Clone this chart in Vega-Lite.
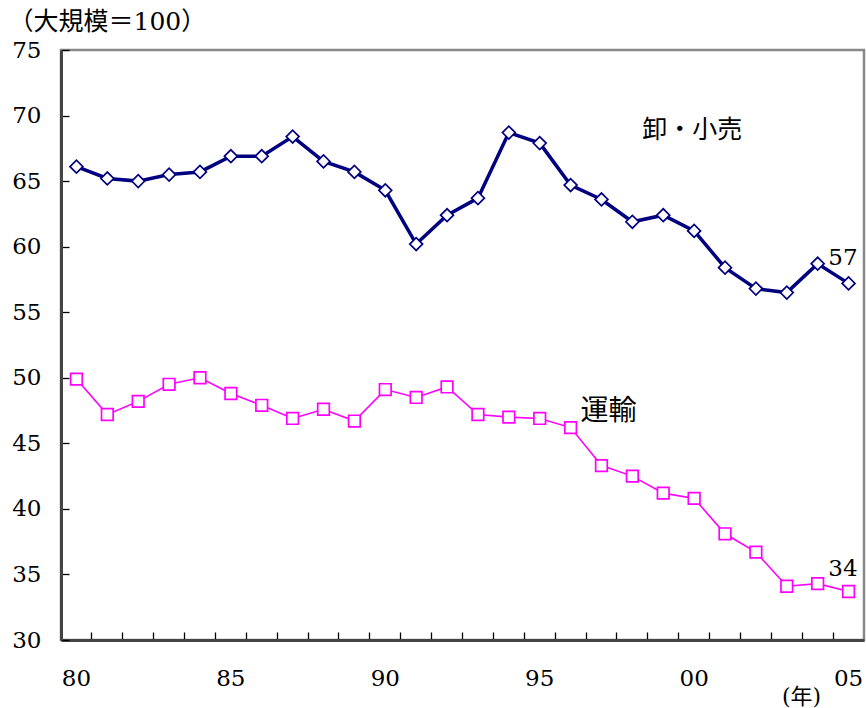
{
  "$schema": "https://vega.github.io/schema/vega-lite/v6.json",
  "width": 803,
  "height": 590,
  "autosize": {"type": "none"},
  "padding": {"left": 61, "top": 50, "right": 2, "bottom": 68},
  "background": "white",
  "config": {
    "view": {"stroke": "#888888", "strokeWidth": 2.5},
    "font": "DejaVu Serif"
  },
  "datasets": {
    "series": [
      {"series": "卸・小売", "year": 1980, "value": 66.1},
      {"series": "卸・小売", "year": 1981, "value": 65.2},
      {"series": "卸・小売", "year": 1982, "value": 65.0},
      {"series": "卸・小売", "year": 1983, "value": 65.5},
      {"series": "卸・小売", "year": 1984, "value": 65.7},
      {"series": "卸・小売", "year": 1985, "value": 66.9},
      {"series": "卸・小売", "year": 1986, "value": 66.9},
      {"series": "卸・小売", "year": 1987, "value": 68.4},
      {"series": "卸・小売", "year": 1988, "value": 66.5},
      {"series": "卸・小売", "year": 1989, "value": 65.7},
      {"series": "卸・小売", "year": 1990, "value": 64.3},
      {"series": "卸・小売", "year": 1991, "value": 60.2},
      {"series": "卸・小売", "year": 1992, "value": 62.4},
      {"series": "卸・小売", "year": 1993, "value": 63.7},
      {"series": "卸・小売", "year": 1994, "value": 68.7},
      {"series": "卸・小売", "year": 1995, "value": 67.9},
      {"series": "卸・小売", "year": 1996, "value": 64.7},
      {"series": "卸・小売", "year": 1997, "value": 63.6},
      {"series": "卸・小売", "year": 1998, "value": 61.9},
      {"series": "卸・小売", "year": 1999, "value": 62.4},
      {"series": "卸・小売", "year": 2000, "value": 61.2},
      {"series": "卸・小売", "year": 2001, "value": 58.4},
      {"series": "卸・小売", "year": 2002, "value": 56.8},
      {"series": "卸・小売", "year": 2003, "value": 56.5},
      {"series": "卸・小売", "year": 2004, "value": 58.7},
      {"series": "卸・小売", "year": 2005, "value": 57.2},
      {"series": "運輸", "year": 1980, "value": 49.9},
      {"series": "運輸", "year": 1981, "value": 47.2},
      {"series": "運輸", "year": 1982, "value": 48.2},
      {"series": "運輸", "year": 1983, "value": 49.5},
      {"series": "運輸", "year": 1984, "value": 50.0},
      {"series": "運輸", "year": 1985, "value": 48.8},
      {"series": "運輸", "year": 1986, "value": 47.9},
      {"series": "運輸", "year": 1987, "value": 46.9},
      {"series": "運輸", "year": 1988, "value": 47.6},
      {"series": "運輸", "year": 1989, "value": 46.7},
      {"series": "運輸", "year": 1990, "value": 49.1},
      {"series": "運輸", "year": 1991, "value": 48.5},
      {"series": "運輸", "year": 1992, "value": 49.3},
      {"series": "運輸", "year": 1993, "value": 47.2},
      {"series": "運輸", "year": 1994, "value": 47.0},
      {"series": "運輸", "year": 1995, "value": 46.9},
      {"series": "運輸", "year": 1996, "value": 46.2},
      {"series": "運輸", "year": 1997, "value": 43.3},
      {"series": "運輸", "year": 1998, "value": 42.5},
      {"series": "運輸", "year": 1999, "value": 41.2},
      {"series": "運輸", "year": 2000, "value": 40.8},
      {"series": "運輸", "year": 2001, "value": 38.1},
      {"series": "運輸", "year": 2002, "value": 36.7},
      {"series": "運輸", "year": 2003, "value": 34.1},
      {"series": "運輸", "year": 2004, "value": 34.3},
      {"series": "運輸", "year": 2005, "value": 33.7}
    ],
    "names": [
      {"label": "卸・小売", "year": 2000, "value": 68.9}
    ],
    "names2": [
      {"label": "運輸", "year": 1997, "value": 47.4}
    ],
    "ends": [
      {"label": "57", "year": 2005, "value": 59.1},
      {"label": "34", "year": 2005, "value": 35.4}
    ]
  },
  "encoding": {
    "x": {
      "field": "year",
      "type": "ordinal",
      "scale": {"type": "band", "paddingInner": 0, "paddingOuter": 0},
      "axis": {
        "title": "(年)",
        "titleFont": "DejaVu Serif, Noto Sans CJK JP",
        "titleFontSize": 22,
        "titleFontWeight": "normal",
        "titleColor": "#000000",
        "titleAnchor": "start",
        "titleAlign": "center",
        "titleBaseline": "middle",
        "titleX": 740,
        "titleY": 56,
        "bandPosition": 0,
        "labelOffset": 0,
        "labelAngle": 0,
        "labelExpr": "datum.value % 5 == 0 ? slice(toString(datum.value), 2) : ''",
        "labelFont": "DejaVu Serif",
        "labelFontSize": 23,
        "labelColor": "#000000",
        "labelPadding": 35,
        "labelFlush": false,
        "labelOverlap": false,
        "tickSize": -8,
        "tickColor": "#000000",
        "tickWidth": 1.3,
        "domainColor": "#444444",
        "domainWidth": 3,
        "grid": false
      }
    },
    "y": {
      "field": "value",
      "type": "quantitative",
      "scale": {"domain": [30, 75], "nice": false, "zero": false},
      "axis": {
        "values": [30, 35, 40, 45, 50, 55, 60, 65, 70, 75],
        "title": "（大規模＝100）",
        "titleFont": "DejaVu Serif, Noto Sans CJK JP",
        "titleFontSize": 25,
        "titleFontWeight": "normal",
        "titleColor": "#000000",
        "titleAngle": 0,
        "titleAlign": "left",
        "titleBaseline": "middle",
        "titleX": -53,
        "titleY": -29,
        "labelFont": "DejaVu Serif",
        "labelFontSize": 23,
        "labelColor": "#000000",
        "labelPadding": 28,
        "tickSize": -8,
        "tickColor": "#000000",
        "tickWidth": 1.3,
        "domainColor": "#444444",
        "domainWidth": 3,
        "grid": false
      }
    }
  },
  "layer": [
    {
      "data": {"name": "series"},
      "mark": {"type": "line"},
      "encoding": {
        "stroke": {"field": "series", "type": "nominal", "scale": {"domain": ["卸・小売", "運輸"], "range": ["#000080", "#FF00FF"]}, "legend": null},
        "strokeWidth": {"field": "series", "type": "nominal", "scale": {"domain": ["卸・小売", "運輸"], "range": [3.5, 1.6]}, "legend": null}
      }
    },
    {
      "data": {"name": "series"},
      "mark": {"type": "point", "fill": "white", "filled": false, "opacity": 1, "fillOpacity": 1, "strokeWidth": 1.7},
      "encoding": {
        "stroke": {"field": "series", "type": "nominal", "scale": {"domain": ["卸・小売", "運輸"], "range": ["#000080", "#FF00FF"]}, "legend": null},
        "shape": {"field": "series", "type": "nominal", "scale": {"domain": ["卸・小売", "運輸"], "range": ["diamond", "square"]}, "legend": null},
        "size": {"field": "series", "type": "nominal", "scale": {"domain": ["卸・小売", "運輸"], "range": [165, 135]}, "legend": null}
      }
    },
    {
      "data": {"name": "names"},
      "mark": {"type": "text", "font": "Noto Sans CJK JP", "fontSize": 25, "align": "center", "baseline": "middle", "dx": -2, "color": "#000000"},
      "encoding": {"text": {"field": "label"}}
    },
    {
      "data": {"name": "names2"},
      "mark": {"type": "text", "font": "Noto Sans CJK JP", "fontSize": 28, "align": "center", "baseline": "middle", "dx": 7, "color": "#000000"},
      "encoding": {"text": {"field": "label"}}
    },
    {
      "data": {"name": "ends"},
      "mark": {"type": "text", "font": "DejaVu Serif", "fontSize": 23, "align": "right", "baseline": "middle", "dx": 9, "color": "#000000"},
      "encoding": {"text": {"field": "label"}}
    }
  ]
}
